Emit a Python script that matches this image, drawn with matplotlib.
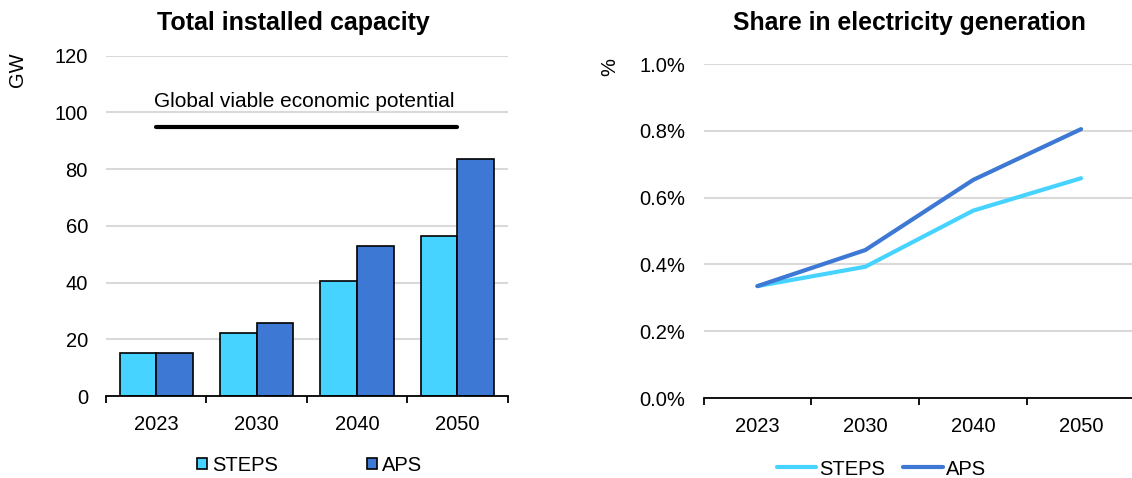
import numpy as np
import matplotlib.pyplot as plt

plt.rcParams['font.family'] = ['Liberation Sans', 'DejaVu Sans']

years = ['2023', '2030', '2040', '2050']
capacity_steps = [15.0, 22.2, 40.5, 56.4]
capacity_aps = [15.0, 25.8, 53.0, 83.4]
share_steps = [0.335, 0.393, 0.561, 0.658]
share_aps = [0.335, 0.443, 0.653, 0.805]
potential = 95

c_steps = '#47D3FF'
c_aps = '#3C78D4'
grid_c = '#D9D9D9'

W, H = 1132, 478
fig = plt.figure(figsize=(W / 100, H / 100), dpi=100)

def box(x0, x1, y_bottom, y_top):
    return [x0 / W, (H - y_bottom) / H, (x1 - x0) / W, (y_bottom - y_top) / H]

def style(ax):
    for s in ['top', 'right', 'left']:
        ax.spines[s].set_visible(False)
    ax.spines['bottom'].set_linewidth(1.3)
    ax.tick_params(axis='y', length=0, pad=13, labelsize=14.5)
    ax.set_xticks(np.arange(len(years)))
    ax.set_xticklabels(years)
    ax.tick_params(axis='x', which='major', length=0, pad=14, labelsize=14.5)
    ax.set_xticks(np.arange(len(years) + 1) - 0.5, minor=True)
    ax.tick_params(axis='x', which='minor', length=5, width=1.3)
    ax.grid(axis='y', color=grid_c, lw=1.5)
    ax.set_axisbelow(True)
    ax.set_xlim(-0.5, len(years) - 0.5)

# left: capacity bars
ax1 = fig.add_axes(box(106, 507.5, 396, 55.7))
style(ax1)
x = np.arange(len(years))
w = 0.365
ax1.bar(x - w / 2, capacity_steps, w, color=c_steps, edgecolor='black', lw=1.2, label='STEPS')
ax1.bar(x + w / 2, capacity_aps, w, color=c_aps, edgecolor='black', lw=1.2, label='APS')
ax1.plot([x[0], x[-1]], [potential, potential], color='black', lw=3, solid_capstyle='round')
ax1.text(1.48, potential + 9.0, 'Global viable economic potential', ha='center', va='center', fontsize=15)
ax1.set_ylim(0, 120)
ax1.set_yticks(range(0, 121, 20))
ax1.legend(loc='center', bbox_to_anchor=(0.507, -0.203), ncol=2, frameon=False,
           fontsize=14.5, handlelength=0.5, handleheight=0.5, handletextpad=0.25,
           columnspacing=4.4, borderpad=0)
fig.text(293 / W, 1 - 23 / H, 'Total installed capacity', ha='center', va='center',
         fontsize=18, fontweight='bold')
fig.text(18 / W, 1 - 70 / H, 'GW', ha='center', va='center', rotation=90, fontsize=14.5)

# right: share lines
ax2 = fig.add_axes(box(703.5, 1135, 398, 64))
style(ax2)
ax2.plot(x, share_steps, color=c_steps, lw=3, solid_capstyle='round', label='STEPS')
ax2.plot(x, share_aps, color=c_aps, lw=3, solid_capstyle='round', label='APS')
ax2.set_ylim(0, 1.0)
ax2.set_yticks(np.arange(0, 1.01, 0.2))
ax2.set_yticklabels([f'{v:.1f}%' for v in np.arange(0, 1.01, 0.2)])
ax2.legend(loc='center', bbox_to_anchor=(0.4125, -0.2126), ncol=2, frameon=False,
           fontsize=14.5, handlelength=1.95, handletextpad=0.15, columnspacing=0.9,
           borderpad=0)
fig.text(909 / W, 1 - 23 / H, 'Share in electricity generation', ha='center', va='center',
         fontsize=17.8, fontweight='bold')
fig.text(610 / W, 1 - 67 / H, '%', ha='center', va='center', rotation=90, fontsize=14.5)

fig.savefig('out.png', dpi=100)
